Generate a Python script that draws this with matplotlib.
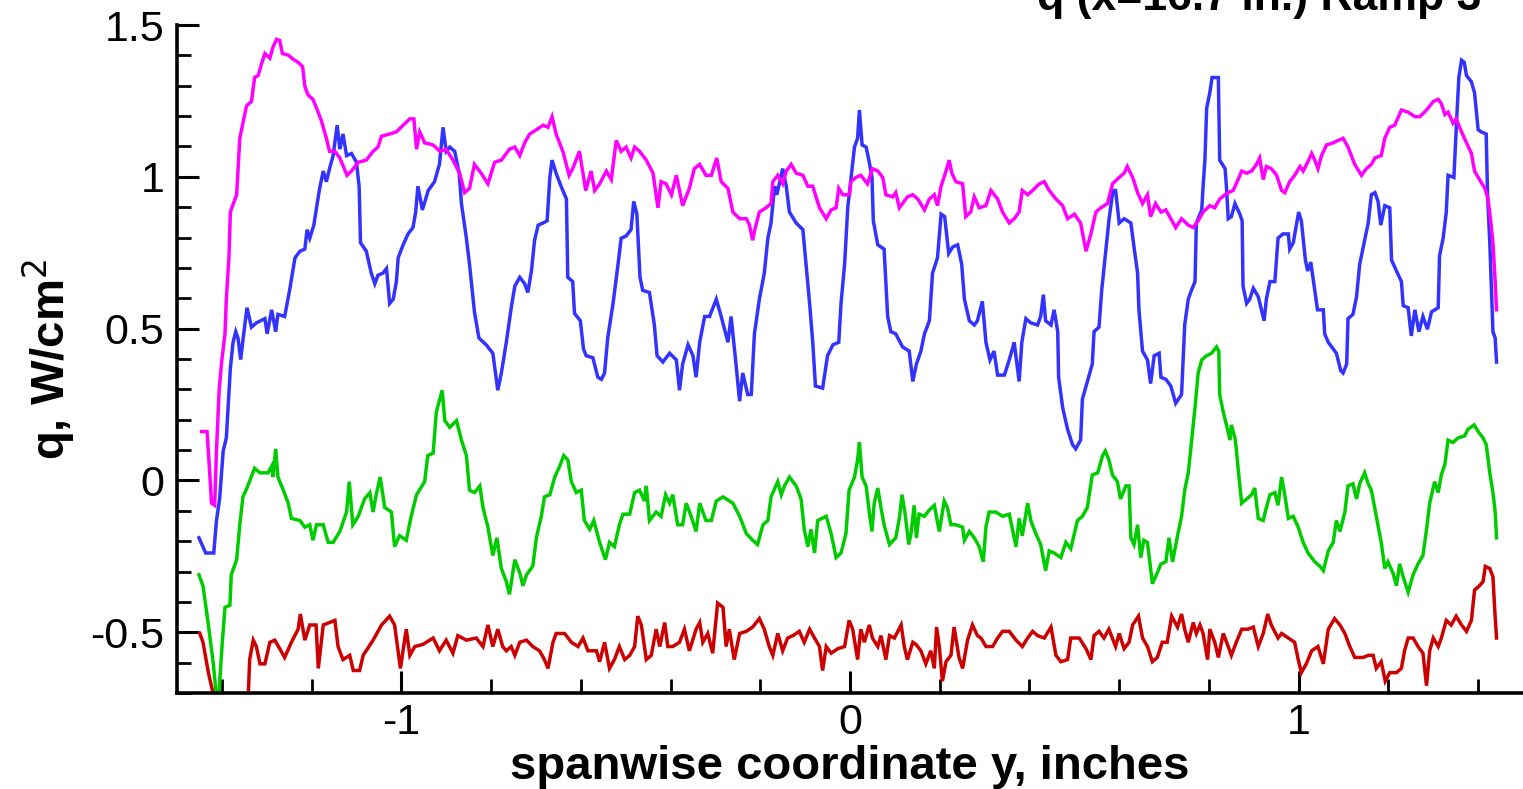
import matplotlib
matplotlib.use("Agg")
import matplotlib.pyplot as plt
from matplotlib.ticker import MultipleLocator, FuncFormatter

plt.rcParams['font.family'] = ['Liberation Sans', 'DejaVu Sans']

# spanwise position (inches) / heat flux (W/cm^2) for the four traces

y_magenta = [
    -1.445, -1.433, -1.427, -1.423, -1.416, -1.412, -1.406, -1.401, -1.393, -1.390,
    -1.384, -1.381, -1.376, -1.367, -1.360, -1.352, -1.345, -1.334, -1.327, -1.319,
    -1.312, -1.304, -1.293, -1.286, -1.278, -1.271, -1.265, -1.252, -1.241, -1.230,
    -1.220, -1.215, -1.208, -1.197, -1.189, -1.178, -1.167, -1.160, -1.148, -1.137,
    -1.121, -1.111, -1.096, -1.078, -1.063, -1.052, -1.044, -1.026, -1.011, -0.996,
    -0.981, -0.972, -0.966, -0.959, -0.948, -0.929, -0.914, -0.900, -0.885, -0.870,
    -0.859, -0.848, -0.837, -0.822, -0.807, -0.792, -0.777, -0.759, -0.747, -0.736,
    -0.725, -0.714, -0.699, -0.684, -0.673, -0.664, -0.655, -0.640, -0.626, -0.618,
    -0.603, -0.589, -0.577, -0.569, -0.558, -0.543, -0.532, -0.521, -0.510, -0.499,
    -0.488, -0.480, -0.469, -0.454, -0.439, -0.428, -0.421, -0.410, -0.398, -0.387,
    -0.373, -0.358, -0.347, -0.335, -0.321, -0.309, -0.297, -0.287, -0.272, -0.261,
    -0.246, -0.231, -0.224, -0.217, -0.211, -0.202, -0.187, -0.176, -0.172, -0.161,
    -0.150, -0.142, -0.131, -0.120, -0.105, -0.094, -0.083, -0.068, -0.053, -0.042,
    -0.031, -0.025, -0.016, -0.001, 0.002, 0.013, 0.024, 0.039, 0.050, 0.062,
    0.073, 0.080, 0.095, 0.102, 0.110, 0.117, 0.128, 0.140, 0.151, 0.166,
    0.177, 0.188, 0.195, 0.203, 0.214, 0.221, 0.227, 0.236, 0.251, 0.258,
    0.269, 0.277, 0.288, 0.303, 0.314, 0.329, 0.340, 0.355, 0.366, 0.377,
    0.384, 0.396, 0.407, 0.422, 0.433, 0.444, 0.459, 0.474, 0.485, 0.500,
    0.514, 0.526, 0.537, 0.548, 0.559, 0.574, 0.585, 0.600, 0.611, 0.618,
    0.630, 0.641, 0.652, 0.663, 0.670, 0.681, 0.693, 0.704, 0.715, 0.726,
    0.739, 0.754, 0.765, 0.776, 0.787, 0.802, 0.813, 0.824, 0.836, 0.843,
    0.854, 0.865, 0.873, 0.884, 0.895, 0.906, 0.913, 0.921, 0.928, 0.939,
    0.951, 0.962, 0.969, 0.980, 0.991, 1.003, 1.010, 1.020, 1.029, 1.036,
    1.043, 1.051, 1.062, 1.077, 1.088, 1.099, 1.110, 1.125, 1.140, 1.151,
    1.162, 1.170, 1.184, 1.192, 1.203, 1.214, 1.229, 1.244, 1.259, 1.270,
    1.285, 1.300, 1.311, 1.318, 1.326, 1.333, 1.344, 1.351, 1.363, 1.374,
    1.385, 1.392, 1.403, 1.415, 1.422, 1.428, 1.433, 1.438, 1.441,
]
q_magenta = [
    0.161, 0.161, 0.025, -0.075, -0.082, 0.097, 0.297, 0.383, 0.483, 0.597,
    0.740, 0.884, 0.905, 0.941, 1.127, 1.184, 1.234, 1.248, 1.327, 1.334,
    1.370, 1.406, 1.391, 1.427, 1.453, 1.449, 1.406, 1.401, 1.387, 1.377,
    1.363, 1.298, 1.270, 1.255, 1.227, 1.184, 1.127, 1.084, 1.084, 1.062,
    1.005, 1.019, 1.048, 1.055, 1.084, 1.098, 1.134, 1.141, 1.148, 1.170,
    1.191, 1.191, 1.091, 1.148, 1.112, 1.105, 1.084, 1.091, 1.055, 1.012,
    0.948, 0.962, 1.041, 1.012, 0.977, 1.048, 1.055, 1.091, 1.098, 1.070,
    1.112, 1.141, 1.155, 1.170, 1.163, 1.198, 1.141, 1.084, 1.005, 1.027,
    1.084, 0.955, 1.019, 0.955, 0.977, 1.019, 0.991, 1.120, 1.084, 1.098,
    1.062, 1.098, 1.084, 1.055, 1.012, 0.898, 0.984, 0.977, 0.941, 1.005,
    0.905, 0.962, 1.027, 1.041, 1.005, 1.005, 1.062, 0.984, 0.962, 0.884,
    0.862, 0.862, 0.841, 0.791, 0.833, 0.884, 0.898, 0.912, 0.984, 1.005,
    0.977, 1.019, 1.041, 1.012, 1.005, 0.969, 0.969, 0.898, 0.862, 0.891,
    0.898, 0.962, 0.941, 0.941, 0.984, 0.998, 1.005, 0.977, 1.027, 1.019,
    0.998, 0.941, 0.934, 0.948, 0.898, 0.912, 0.934, 0.941, 0.927, 0.891,
    0.927, 0.941, 0.905, 0.969, 1.019, 1.055, 1.012, 0.984, 0.977, 0.869,
    0.884, 0.934, 0.898, 0.905, 0.955, 0.927, 0.884, 0.848, 0.862, 0.884,
    0.955, 0.941, 0.955, 0.977, 0.984, 0.955, 0.927, 0.905, 0.862, 0.877,
    0.848, 0.755, 0.812, 0.884, 0.898, 0.912, 0.977, 0.998, 1.012, 1.034,
    0.998, 0.948, 0.912, 0.941, 0.869, 0.912, 0.884, 0.891, 0.862, 0.833,
    0.862, 0.841, 0.833, 0.855, 0.884, 0.905, 0.898, 0.927, 0.941, 0.948,
    0.955, 0.991, 1.019, 1.012, 1.019, 1.041, 1.062, 0.991, 1.034, 1.027,
    1.005, 0.955, 0.948, 0.984, 1.005, 1.034, 1.019, 1.048, 1.077, 1.055,
    1.027, 1.070, 1.105, 1.112, 1.120, 1.127, 1.098, 1.041, 1.005, 1.027,
    1.041, 1.062, 1.070, 1.127, 1.163, 1.170, 1.220, 1.213, 1.198, 1.198,
    1.220, 1.248, 1.255, 1.241, 1.205, 1.213, 1.177, 1.191, 1.148, 1.112,
    1.077, 1.019, 0.991, 0.962, 0.927, 0.855, 0.783, 0.655, 0.562,
]

y_blue = [
    -1.451, -1.436, -1.418, -1.412, -1.405, -1.397, -1.390, -1.381, -1.375, -1.369,
    -1.364, -1.358, -1.353, -1.344, -1.334, -1.323, -1.304, -1.299, -1.289, -1.280,
    -1.275, -1.260, -1.249, -1.237, -1.226, -1.215, -1.210, -1.204, -1.195, -1.189,
    -1.182, -1.174, -1.167, -1.160, -1.152, -1.143, -1.137, -1.130, -1.122, -1.111,
    -1.100, -1.094, -1.091, -1.078, -1.067, -1.059, -1.052, -1.041, -1.033, -1.026,
    -1.018, -1.011, -1.007, -0.996, -0.985, -0.974, -0.968, -0.963, -0.953, -0.940,
    -0.926, -0.915, -0.907, -0.900, -0.892, -0.881, -0.871, -0.866, -0.855, -0.848,
    -0.837, -0.827, -0.811, -0.796, -0.785, -0.777, -0.766, -0.755, -0.747, -0.736,
    -0.725, -0.718, -0.710, -0.703, -0.695, -0.684, -0.675, -0.669, -0.664, -0.655,
    -0.644, -0.632, -0.629, -0.618, -0.614, -0.601, -0.594, -0.588, -0.573, -0.562,
    -0.554, -0.547, -0.540, -0.528, -0.517, -0.510, -0.499, -0.488, -0.482, -0.475,
    -0.468, -0.462, -0.447, -0.436, -0.430, -0.417, -0.402, -0.387, -0.380, -0.373,
    -0.361, -0.350, -0.343, -0.335, -0.324, -0.313, -0.298, -0.287, -0.272, -0.265,
    -0.255, -0.246, -0.239, -0.228, -0.220, -0.213, -0.202, -0.191, -0.183, -0.176,
    -0.168, -0.163, -0.150, -0.142, -0.135, -0.120, -0.105, -0.098, -0.090, -0.083,
    -0.077, -0.061, -0.050, -0.038, -0.025, -0.020, -0.012, -0.005, 0.010, 0.017,
    0.021, 0.027, 0.036, 0.043, 0.049, 0.052, 0.062, 0.076, 0.084, 0.091,
    0.102, 0.117, 0.132, 0.140, 0.148, 0.158, 0.166, 0.177, 0.184, 0.195,
    0.203, 0.211, 0.220, 0.229, 0.240, 0.249, 0.255, 0.266, 0.277, 0.284,
    0.295, 0.303, 0.312, 0.321, 0.329, 0.344, 0.355, 0.366, 0.377, 0.383,
    0.392, 0.403, 0.418, 0.425, 0.431, 0.436, 0.448, 0.455, 0.463, 0.465,
    0.474, 0.485, 0.496, 0.503, 0.514, 0.518, 0.529, 0.540, 0.544, 0.555,
    0.561, 0.569, 0.577, 0.586, 0.592, 0.600, 0.611, 0.626, 0.633, 0.641,
    0.644, 0.652, 0.663, 0.670, 0.678, 0.689, 0.693, 0.704, 0.715, 0.726,
    0.739, 0.746, 0.754, 0.761, 0.769, 0.772, 0.784, 0.787, 0.791, 0.795,
    0.802, 0.807, 0.821, 0.824, 0.836, 0.839, 0.843, 0.850, 0.858, 0.869,
    0.874, 0.876, 0.884, 0.891, 0.899, 0.910, 0.917, 0.923, 0.928, 0.936,
    0.947, 0.954, 0.965, 0.977, 0.980, 0.988, 0.995, 1.000, 1.006, 1.015,
    1.020, 1.027, 1.036, 1.042, 1.055, 1.058, 1.066, 1.077, 1.084, 1.094,
    1.099, 1.107, 1.110, 1.121, 1.129, 1.136, 1.144, 1.155, 1.162, 1.170,
    1.177, 1.183, 1.192, 1.203, 1.207, 1.218, 1.229, 1.233, 1.244, 1.251,
    1.259, 1.268, 1.277, 1.287, 1.296, 1.311, 1.314, 1.322, 1.329, 1.333,
    1.346, 1.352, 1.357, 1.363, 1.369, 1.374, 1.385, 1.392, 1.400, 1.407,
    1.418, 1.421, 1.426, 1.429, 1.433, 1.438, 1.441,
]
q_blue = [
    -0.189, -0.239, -0.239, -0.132, -0.061, 0.097, 0.140, 0.369, 0.455, 0.490,
    0.469, 0.398, 0.462, 0.569, 0.505, 0.519, 0.533, 0.483, 0.562, 0.490,
    0.547, 0.540, 0.626, 0.733, 0.755, 0.762, 0.826, 0.798, 0.841, 0.898,
    0.962, 1.019, 0.984, 1.027, 1.070, 1.170, 1.091, 1.141, 1.070, 1.077,
    1.048, 0.969, 0.783, 0.755, 0.683, 0.648, 0.676, 0.683, 0.698, 0.583,
    0.597, 0.655, 0.733, 0.776, 0.812, 0.833, 0.884, 0.969, 0.891, 0.955,
    0.984, 1.041, 1.163, 1.084, 1.098, 1.084, 1.012, 0.912, 0.798, 0.712,
    0.555, 0.469, 0.447, 0.419, 0.297, 0.354, 0.455, 0.569, 0.640, 0.669,
    0.648, 0.619, 0.690, 0.791, 0.841, 0.848, 0.855, 0.998, 1.055, 1.012,
    0.969, 0.927, 0.669, 0.655, 0.550, 0.526, 0.433, 0.411, 0.404, 0.340,
    0.333, 0.354, 0.469, 0.584, 0.712, 0.798, 0.805, 0.826, 0.919, 0.877,
    0.669, 0.626, 0.619, 0.512, 0.411, 0.390, 0.419, 0.397, 0.297, 0.383,
    0.447, 0.411, 0.340, 0.455, 0.540, 0.540, 0.597, 0.540, 0.455, 0.540,
    0.397, 0.261, 0.354, 0.283, 0.283, 0.483, 0.597, 0.683, 0.798, 0.848,
    0.969, 0.941, 1.027, 0.969, 0.884, 0.848, 0.826, 0.712, 0.583, 0.455,
    0.311, 0.304, 0.411, 0.447, 0.455, 0.583, 0.712, 0.898, 1.098, 1.127,
    1.220, 1.105, 1.098, 1.048, 0.998, 0.855, 0.776, 0.762, 0.540, 0.490,
    0.483, 0.440, 0.426, 0.326, 0.383, 0.426, 0.483, 0.526, 0.683, 0.733,
    0.877, 0.869, 0.748, 0.769, 0.776, 0.712, 0.597, 0.526, 0.512, 0.526,
    0.590, 0.455, 0.397, 0.426, 0.347, 0.347, 0.397, 0.455, 0.326, 0.455,
    0.533, 0.519, 0.512, 0.540, 0.612, 0.526, 0.512, 0.562, 0.490, 0.340,
    0.240, 0.168, 0.118, 0.104, 0.133, 0.268, 0.326, 0.383, 0.490, 0.505,
    0.626, 0.740, 0.855, 0.955, 0.955, 0.848, 0.862, 0.848, 0.769, 0.683,
    0.562, 0.426, 0.397, 0.319, 0.411, 0.419, 0.340, 0.333, 0.311, 0.254,
    0.283, 0.512, 0.597, 0.626, 0.655, 0.848, 0.891, 0.969, 1.055, 1.227,
    1.277, 1.327, 1.327, 1.055, 1.027, 0.969, 0.862, 0.869, 0.912, 0.877,
    0.855, 0.640, 0.583, 0.597, 0.633, 0.605, 0.562, 0.526, 0.597, 0.655,
    0.655, 0.798, 0.812, 0.812, 0.762, 0.783, 0.841, 0.884, 0.855, 0.726,
    0.690, 0.719, 0.626, 0.562, 0.562, 0.483, 0.455, 0.433, 0.419, 0.361,
    0.354, 0.383, 0.533, 0.547, 0.605, 0.712, 0.769, 0.848, 0.941, 0.948,
    0.919, 0.841, 0.905, 0.898, 0.726, 0.690, 0.655, 0.576, 0.569, 0.476,
    0.562, 0.490, 0.540, 0.498, 0.555, 0.569, 0.740, 0.798, 0.884, 1.005,
    0.998, 1.184, 1.327, 1.384, 1.377, 1.334, 1.313, 1.277, 1.155, 1.148,
    1.141, 0.941, 0.783, 0.655, 0.490, 0.469, 0.390,
]

y_green = [
    -1.451, -1.442, -1.430, -1.419, -1.409, -1.399, -1.393, -1.382, -1.379, -1.367,
    -1.360, -1.353, -1.344, -1.327, -1.315, -1.297, -1.289, -1.286, -1.280, -1.275,
    -1.263, -1.252, -1.245, -1.226, -1.215, -1.204, -1.197, -1.189, -1.174, -1.163,
    -1.152, -1.137, -1.122, -1.116, -1.108, -1.096, -1.082, -1.070, -1.063, -1.056,
    -1.047, -1.037, -1.022, -1.015, -1.004, -0.989, -0.978, -0.966, -0.948, -0.941,
    -0.929, -0.922, -0.909, -0.903, -0.892, -0.877, -0.866, -0.855, -0.848, -0.837,
    -0.825, -0.818, -0.807, -0.796, -0.787, -0.777, -0.766, -0.759, -0.747, -0.736,
    -0.729, -0.721, -0.707, -0.699, -0.688, -0.681, -0.669, -0.658, -0.647, -0.638,
    -0.629, -0.621, -0.610, -0.599, -0.592, -0.580, -0.571, -0.558, -0.545, -0.536,
    -0.525, -0.514, -0.506, -0.491, -0.480, -0.469, -0.458, -0.454, -0.447, -0.432,
    -0.421, -0.411, -0.402, -0.395, -0.384, -0.373, -0.365, -0.354, -0.343, -0.335,
    -0.321, -0.309, -0.298, -0.283, -0.261, -0.246, -0.231, -0.217, -0.206, -0.194,
    -0.183, -0.176, -0.161, -0.153, -0.146, -0.135, -0.120, -0.109, -0.102, -0.094,
    -0.087, -0.079, -0.072, -0.053, -0.042, -0.031, -0.020, -0.009, -0.002, 0.010,
    0.017, 0.021, 0.027, 0.036, 0.043, 0.049, 0.054, 0.062, 0.069, 0.076,
    0.088, 0.102, 0.110, 0.116, 0.123, 0.131, 0.136, 0.143, 0.148, 0.154,
    0.166, 0.177, 0.188, 0.199, 0.210, 0.217, 0.225, 0.236, 0.251, 0.255,
    0.266, 0.277, 0.288, 0.297, 0.303, 0.310, 0.325, 0.340, 0.355, 0.362,
    0.370, 0.377, 0.384, 0.396, 0.403, 0.414, 0.425, 0.436, 0.444, 0.455,
    0.470, 0.481, 0.492, 0.507, 0.518, 0.529, 0.540, 0.552, 0.563, 0.569,
    0.577, 0.585, 0.596, 0.603, 0.615, 0.622, 0.626, 0.633, 0.641, 0.648,
    0.655, 0.663, 0.674, 0.685, 0.693, 0.704, 0.711, 0.719, 0.730, 0.739,
    0.746, 0.754, 0.761, 0.769, 0.776, 0.784, 0.795, 0.806, 0.817, 0.822,
    0.824, 0.832, 0.839, 0.847, 0.850, 0.858, 0.861, 0.865, 0.873, 0.884,
    0.895, 0.902, 0.910, 0.921, 0.928, 0.936, 0.947, 0.954, 0.962, 0.969,
    0.977, 0.988, 0.999, 1.010, 1.021, 1.036, 1.047, 1.055, 1.066, 1.077,
    1.084, 1.092, 1.103, 1.110, 1.121, 1.129, 1.136, 1.147, 1.155, 1.162,
    1.173, 1.184, 1.192, 1.199, 1.210, 1.218, 1.225, 1.233, 1.244, 1.255,
    1.266, 1.277, 1.285, 1.292, 1.303, 1.311, 1.318, 1.326, 1.333, 1.344,
    1.355, 1.370, 1.377, 1.391, 1.400, 1.411, 1.418, 1.426, 1.433, 1.438,
    1.441,
]
q_green = [
    -0.311, -0.347, -0.476, -0.604, -0.760, -0.533, -0.418, -0.411, -0.311, -0.261,
    -0.146, -0.054, -0.025, 0.040, 0.025, 0.025, 0.047, 0.011, 0.104, 0.011,
    -0.032, -0.075, -0.125, -0.132, -0.154, -0.146, -0.197, -0.146, -0.146, -0.204,
    -0.204, -0.168, -0.104, -0.004, -0.146, -0.118, -0.061, -0.040, -0.104, -0.047,
    0.011, -0.089, -0.104, -0.218, -0.182, -0.197, -0.118, -0.047, -0.004, 0.082,
    0.090, 0.225, 0.297, 0.197, 0.175, 0.197, 0.133, 0.082, -0.032, -0.040,
    -0.018, -0.089, -0.154, -0.247, -0.189, -0.290, -0.333, -0.375, -0.261, -0.304,
    -0.347, -0.311, -0.282, -0.189, -0.118, -0.054, -0.047, 0.011, 0.047, 0.082,
    0.068, -0.004, -0.040, -0.032, -0.132, -0.161, -0.132, -0.204, -0.261, -0.204,
    -0.218, -0.146, -0.111, -0.111, -0.040, -0.032, -0.068, -0.018, -0.132, -0.104,
    -0.118, -0.047, -0.075, -0.047, -0.146, -0.146, -0.075, -0.118, -0.168, -0.075,
    -0.132, -0.132, -0.068, -0.054, -0.075, -0.118, -0.175, -0.197, -0.211, -0.146,
    -0.132, -0.054, -0.004, -0.047, -0.018, 0.011, -0.018, -0.061, -0.161, -0.218,
    -0.161, -0.239, -0.132, -0.118, -0.175, -0.254, -0.239, -0.175, -0.032, 0.011,
    0.068, 0.125, 0.011, -0.018, -0.104, -0.168, -0.075, -0.025, -0.089, -0.146,
    -0.211, -0.189, -0.125, -0.047, -0.111, -0.211, -0.175, -0.082, -0.189, -0.111,
    -0.118, -0.097, -0.082, -0.168, -0.068, -0.089, -0.146, -0.146, -0.154, -0.197,
    -0.168, -0.189, -0.218, -0.268, -0.154, -0.104, -0.104, -0.118, -0.111, -0.161,
    -0.218, -0.125, -0.182, -0.075, -0.132, -0.175, -0.211, -0.297, -0.232, -0.239,
    -0.254, -0.204, -0.225, -0.132, -0.118, -0.089, 0.018, 0.025, 0.082, 0.097,
    0.068, 0.018, -0.004, -0.061, -0.018, -0.018, -0.189, -0.211, -0.146, -0.254,
    -0.197, -0.204, -0.340, -0.304, -0.275, -0.268, -0.189, -0.268, -0.182, -0.118,
    -0.032, 0.025, 0.125, 0.240, 0.354, 0.397, 0.411, 0.419, 0.440, 0.426,
    0.283, 0.225, 0.183, 0.133, 0.183, 0.140, 0.104, 0.040, -0.075, -0.061,
    -0.047, -0.025, -0.125, -0.132, -0.089, -0.047, -0.040, -0.082, 0.011, -0.047,
    -0.125, -0.118, -0.154, -0.204, -0.239, -0.268, -0.282, -0.297, -0.232, -0.204,
    -0.132, -0.168, -0.104, -0.018, -0.011, -0.061, -0.011, 0.025, -0.011, -0.032,
    -0.118, -0.204, -0.290, -0.268, -0.304, -0.347, -0.275, -0.318, -0.368, -0.311,
    -0.275, -0.247, -0.161, -0.075, -0.004, -0.040, 0.018, 0.054, 0.133, 0.125,
    0.140, 0.147, 0.168, 0.183, 0.161, 0.140, 0.118, 0.025, -0.040, -0.104,
    -0.189,
]

y_red = [
    -1.449, -1.442, -1.430, -1.419, -1.410, -1.345, -1.341, -1.338, -1.330, -1.323,
    -1.315, -1.304, -1.293, -1.282, -1.271, -1.260, -1.245, -1.230, -1.225, -1.215,
    -1.204, -1.190, -1.185, -1.174, -1.160, -1.148, -1.141, -1.130, -1.115, -1.107,
    -1.093, -1.085, -1.063, -1.044, -1.026, -1.015, -1.002, -0.989, -0.981, -0.970,
    -0.952, -0.929, -0.915, -0.900, -0.885, -0.874, -0.855, -0.833, -0.818, -0.807,
    -0.796, -0.785, -0.774, -0.766, -0.755, -0.747, -0.736, -0.721, -0.707, -0.692,
    -0.681, -0.673, -0.662, -0.655, -0.636, -0.621, -0.606, -0.595, -0.584, -0.565,
    -0.558, -0.547, -0.536, -0.525, -0.514, -0.502, -0.491, -0.480, -0.473, -0.465,
    -0.454, -0.443, -0.432, -0.424, -0.413, -0.406, -0.395, -0.380, -0.369, -0.358,
    -0.343, -0.335, -0.328, -0.317, -0.306, -0.295, -0.283, -0.276, -0.269, -0.258,
    -0.246, -0.231, -0.217, -0.202, -0.191, -0.180, -0.172, -0.161, -0.150, -0.139,
    -0.127, -0.113, -0.102, -0.090, -0.079, -0.068, -0.061, -0.053, -0.042, -0.027,
    -0.012, -0.002, 0.006, 0.017, 0.024, 0.032, 0.043, 0.050, 0.062, 0.069,
    0.080, 0.088, 0.099, 0.114, 0.121, 0.128, 0.140, 0.147, 0.158, 0.169,
    0.180, 0.188, 0.193, 0.199, 0.206, 0.214, 0.225, 0.232, 0.243, 0.251,
    0.262, 0.273, 0.284, 0.292, 0.303, 0.318, 0.329, 0.340, 0.355, 0.370,
    0.384, 0.396, 0.407, 0.418, 0.433, 0.448, 0.459, 0.470, 0.485, 0.492,
    0.511, 0.526, 0.537, 0.544, 0.555, 0.566, 0.577, 0.592, 0.600, 0.611,
    0.622, 0.630, 0.643, 0.652, 0.663, 0.674, 0.685, 0.696, 0.707, 0.717,
    0.730, 0.739, 0.746, 0.754, 0.765, 0.772, 0.780, 0.787, 0.797, 0.802,
    0.813, 0.821, 0.832, 0.843, 0.850, 0.861, 0.873, 0.887, 0.899, 0.910,
    0.921, 0.931, 0.939, 0.954, 0.962, 0.977, 0.991, 0.999, 1.006, 1.017,
    1.029, 1.043, 1.055, 1.066, 1.080, 1.092, 1.103, 1.114, 1.125, 1.144,
    1.155, 1.166, 1.173, 1.184, 1.193, 1.203, 1.218, 1.229, 1.236, 1.244,
    1.255, 1.266, 1.277, 1.285, 1.292, 1.300, 1.311, 1.318, 1.329, 1.340,
    1.351, 1.363, 1.374, 1.385, 1.392, 1.403, 1.411, 1.416, 1.426, 1.433,
    1.437, 1.441,
]
q_red = [
    -0.504, -0.533, -0.633, -0.705, -0.800, -0.800, -0.705, -0.590, -0.526, -0.547,
    -0.604, -0.604, -0.533, -0.526, -0.554, -0.583, -0.533, -0.490, -0.440, -0.526,
    -0.476, -0.476, -0.619, -0.476, -0.468, -0.461, -0.547, -0.590, -0.576, -0.626,
    -0.626, -0.576, -0.526, -0.476, -0.447, -0.476, -0.619, -0.490, -0.576, -0.547,
    -0.540, -0.519, -0.561, -0.526, -0.569, -0.511, -0.526, -0.519, -0.547, -0.476,
    -0.547, -0.490, -0.547, -0.561, -0.547, -0.576, -0.533, -0.526, -0.547, -0.561,
    -0.590, -0.619, -0.533, -0.504, -0.504, -0.533, -0.547, -0.519, -0.561, -0.561,
    -0.597, -0.533, -0.619, -0.590, -0.547, -0.590, -0.576, -0.547, -0.447, -0.476,
    -0.590, -0.576, -0.490, -0.547, -0.468, -0.547, -0.547, -0.533, -0.490, -0.561,
    -0.490, -0.468, -0.533, -0.504, -0.569, -0.404, -0.418, -0.547, -0.490, -0.590,
    -0.504, -0.497, -0.483, -0.455, -0.490, -0.547, -0.576, -0.504, -0.561, -0.519,
    -0.511, -0.497, -0.533, -0.490, -0.519, -0.547, -0.626, -0.547, -0.569, -0.554,
    -0.547, -0.461, -0.490, -0.590, -0.490, -0.533, -0.476, -0.519, -0.547, -0.511,
    -0.590, -0.511, -0.519, -0.476, -0.547, -0.590, -0.533, -0.540, -0.561, -0.604,
    -0.561, -0.619, -0.483, -0.547, -0.661, -0.597, -0.576, -0.483, -0.583, -0.619,
    -0.526, -0.476, -0.511, -0.519, -0.547, -0.547, -0.519, -0.497, -0.497, -0.526,
    -0.547, -0.519, -0.497, -0.511, -0.519, -0.483, -0.576, -0.597, -0.590, -0.519,
    -0.519, -0.554, -0.590, -0.511, -0.497, -0.519, -0.490, -0.547, -0.504, -0.554,
    -0.533, -0.476, -0.447, -0.519, -0.547, -0.597, -0.583, -0.533, -0.533, -0.447,
    -0.483, -0.440, -0.490, -0.533, -0.468, -0.504, -0.476, -0.504, -0.590, -0.490,
    -0.533, -0.583, -0.504, -0.547, -0.576, -0.533, -0.490, -0.490, -0.483, -0.547,
    -0.504, -0.440, -0.476, -0.519, -0.504, -0.519, -0.533, -0.590, -0.633, -0.604,
    -0.561, -0.547, -0.604, -0.490, -0.455, -0.476, -0.504, -0.547, -0.583, -0.583,
    -0.576, -0.576, -0.619, -0.597, -0.661, -0.633, -0.633, -0.619, -0.561, -0.519,
    -0.519, -0.547, -0.569, -0.676, -0.561, -0.519, -0.547, -0.519, -0.461, -0.476,
    -0.447, -0.476, -0.497, -0.461, -0.361, -0.347, -0.333, -0.283, -0.290, -0.318,
    -0.426, -0.519,
]

traces = [
    (y_red, q_red, '#cc0000'),
    (y_green, q_green, '#00cc00'),
    (y_blue, q_blue, '#3333ff'),
    (y_magenta, q_magenta, '#ff00ff'),
]

fig = plt.figure(figsize=(15.23, 7.89), dpi=100)
ax = fig.add_axes([0.1162, 0.1217, 0.8838, 0.8466])

for ys, qs, col in traces:
    ax.plot(ys, qs, color=col, lw=2.5, solid_joinstyle='miter')

ax.set_xlim(-1.5, 1.5)
ax.set_ylim(-0.7, 1.5)
ax.xaxis.set_major_locator(MultipleLocator(1))
ax.xaxis.set_minor_locator(MultipleLocator(0.2))
ax.yaxis.set_major_locator(MultipleLocator(0.5))
ax.yaxis.set_minor_locator(MultipleLocator(0.1))
ax.xaxis.set_major_formatter(FuncFormatter(lambda v, p: f"{v:g}"))
ax.yaxis.set_major_formatter(FuncFormatter(lambda v, p: f"{v:g}"))

for side in ('top', 'right'):
    ax.spines[side].set_visible(False)
for side in ('left', 'bottom'):
    ax.spines[side].set_linewidth(2.6)

ax.tick_params(which='major', direction='in', length=16, width=2.2,
               labelsize=31, pad=9)
ax.tick_params(which='minor', direction='in', length=10, width=2.0)
ax.tick_params(axis='x', which='major', pad=7)

ax.set_xlabel('spanwise coordinate y, inches', fontsize=34, fontweight='bold',
              labelpad=2)
ax.set_ylabel('q, W/cm$^2$', fontsize=34, fontweight='bold')
ax.yaxis.set_label_coords(-0.074, 0.5)

# header sits partly above the top edge of the figure
fig.text(0.681, 1 - 10 / 789, 'q (x=16.7 in.) Ramp 3', fontsize=32,
         fontweight='bold', ha='left', va='baseline')

fig.savefig('out.png', dpi=100)
